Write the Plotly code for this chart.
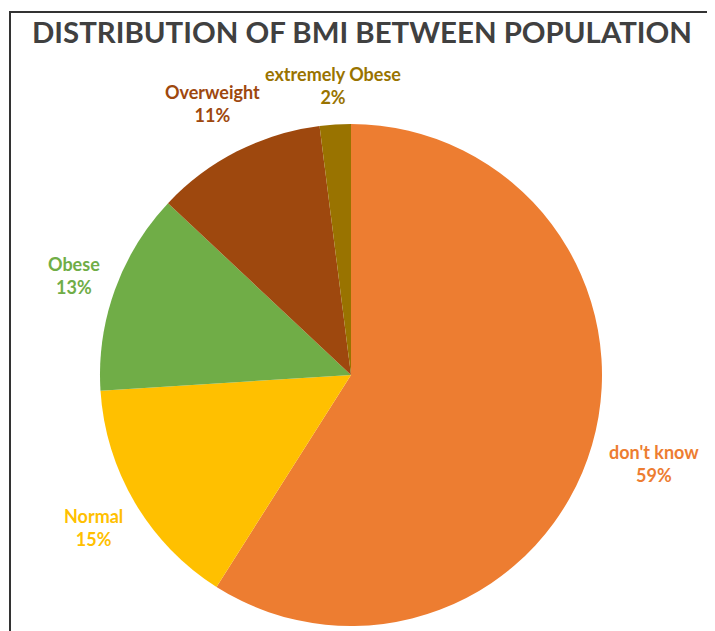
import math
import plotly.graph_objects as go

categories = ["don't know", "Normal", "Obese", "Overweight", "extremely Obese"]
values = [59, 15, 13, 11, 2]
colors = ["#ED7D31", "#FFC000", "#70AD47", "#9E480E", "#997300"]
title_text = "DISTRIBUTION OF BMI BETWEEN POPULATION"

W, H = 715, 631
CX, CY, R = 343, 367, 251          # pie centre / radius in figure pixels (from top-left)
FS = 18                            # label font size
PAD = 14                           # gap between pie edge and label box

fig = go.Figure(go.Pie(
    labels=categories,
    values=values,
    sort=False,
    direction="clockwise",
    rotation=0,
    marker=dict(colors=colors, line=dict(color="white", width=0)),
    textinfo="none",
    showlegend=False,
    hoverinfo="label+percent",
    domain=dict(x=[(CX - R) / W, (CX + R) / W], y=[(H - CY - R) / H, (H - CY + R) / H]),
))

# data labels placed outside each slice along its mid-angle
total = sum(values)
annotations = []
cum = 0
for lab, v, col in zip(categories, values, colors):
    mid = (cum + v / 2) / total
    cum += v
    th = 2 * math.pi * mid
    pct = f"{round(100 * v / total)}%"
    half_w = 0.5 * max(len(lab), len(pct)) * 0.52 * FS
    half_h = 0.5 * 2.3 * FS
    dist = R + PAD + half_w * abs(math.sin(th)) + half_h * abs(math.cos(th))
    x = CX + dist * math.sin(th)
    y = CY - dist * math.cos(th)
    annotations.append(dict(
        x=x / W, y=1 - y / H, xref="paper", yref="paper",
        xanchor="center", yanchor="middle", showarrow=False,
        text=f"<b>{lab}<br>{pct}</b>",
        font=dict(family="Lato", size=FS, color=col),
    ))

fig.update_layout(
    width=W, height=H,
    margin=dict(l=0, r=0, t=0, b=0),
    paper_bgcolor="white",
    title=dict(text="<b>" + title_text + "</b>", x=24 / W, xanchor="left",
               y=1 - 25 / H, yanchor="middle",
               font=dict(family="Lato", size=29.4, color="#404040")),
    annotations=annotations,
    shapes=[dict(type="path", xref="paper", yref="paper",
                 path=f"M {2/W} -0.05 L {2/W} {1-4/H} L 1.05 {1-4/H}",
                 line=dict(color="#333333", width=2))],
)

fig.write_html("out.html")
